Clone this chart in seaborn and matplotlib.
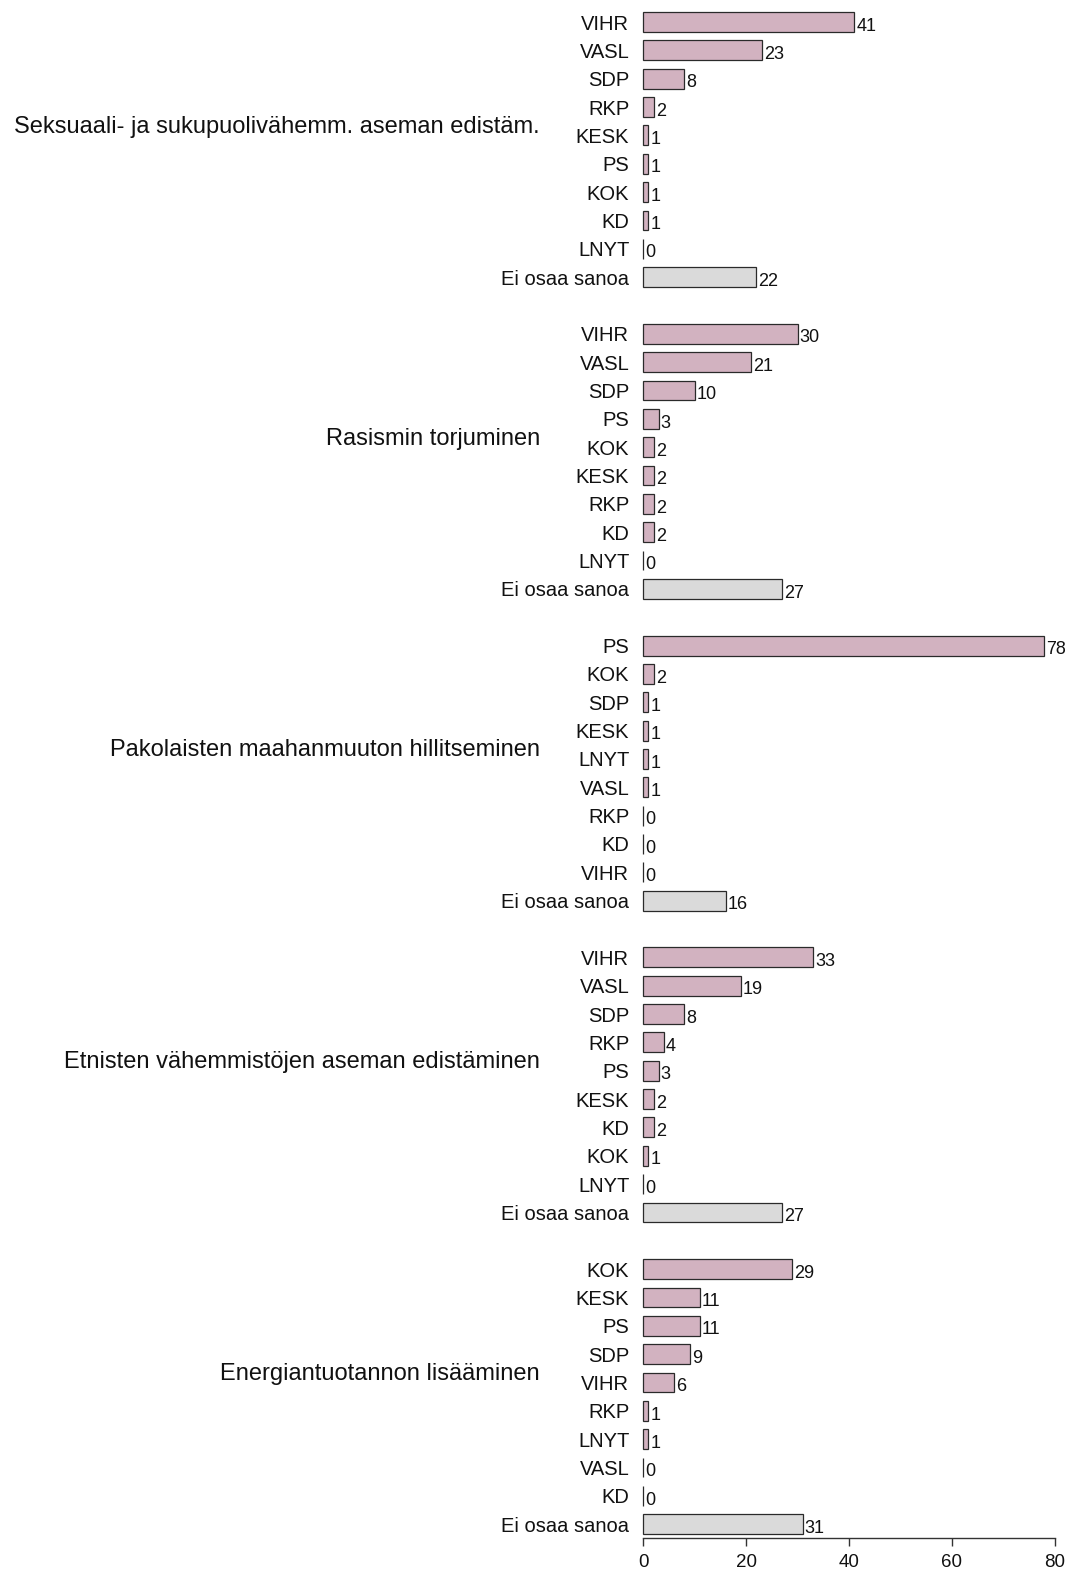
import matplotlib
matplotlib.use("Agg")
import matplotlib.pyplot as plt
import seaborn as sns
import pandas as pd

# ---- data ----
titles = [
    "Seksuaali- ja sukupuolivähemm. aseman edistäm.",
    "Rasismin torjuminen",
    "Pakolaisten maahanmuuton hillitseminen",
    "Etnisten vähemmistöjen aseman edistäminen",
    "Energiantuotannon lisääminen",
]
labels_1 = ["VIHR", "VASL", "SDP", "RKP", "KESK", "PS", "KOK", "KD", "LNYT", "Ei osaa sanoa"]
values_1 = [41, 23, 8, 2, 1, 1, 1, 1, 0, 22]
labels_2 = ["VIHR", "VASL", "SDP", "PS", "KOK", "KESK", "RKP", "KD", "LNYT", "Ei osaa sanoa"]
values_2 = [30, 21, 10, 3, 2, 2, 2, 2, 0, 27]
labels_3 = ["PS", "KOK", "SDP", "KESK", "LNYT", "VASL", "RKP", "KD", "VIHR", "Ei osaa sanoa"]
values_3 = [78, 2, 1, 1, 1, 1, 0, 0, 0, 16]
labels_4 = ["VIHR", "VASL", "SDP", "RKP", "PS", "KESK", "KD", "KOK", "LNYT", "Ei osaa sanoa"]
values_4 = [33, 19, 8, 4, 3, 2, 2, 1, 0, 27]
labels_5 = ["KOK", "KESK", "PS", "SDP", "VIHR", "RKP", "LNYT", "VASL", "KD", "Ei osaa sanoa"]
values_5 = [29, 11, 11, 9, 6, 1, 1, 0, 0, 31]
x_ticks = [0, 20, 40, 60, 80]

groups = [(labels_1, values_1), (labels_2, values_2), (labels_3, values_3),
          (labels_4, values_4), (labels_5, values_5)]

rows = []
for g, (labs, vals) in enumerate(groups):
    for i, (l, v) in enumerate(zip(labs, vals)):
        rows.append({"pos": g * 11 + i, "label": l, "value": v,
                     "kind": "eos" if l == "Ei osaa sanoa" else "party"})
df = pd.DataFrame(rows)

sns.set_theme(style="white")
plt.rcParams["font.family"] = ["Liberation Sans", "DejaVu Sans"]

fig = plt.figure(figsize=(10.75, 15.73), dpi=100)
ax = fig.add_axes([0.597, 0.022, 0.384, 0.973])

sns.barplot(data=df, x="value", y="pos", hue="kind", orient="h", native_scale=True,
            dodge=False, palette={"party": "#d7adbf", "eos": "#dadada"},
            edgecolor="#2a2a2a", linewidth=0.9, width=0.7, legend=False, ax=ax)

for c in ax.containers:
    anns = ax.bar_label(c, padding=2, fontsize=13, color="#111111", clip_on=False)
    for a in anns:
        a.xyann = (1.5, -3)

ax.set_ylim(53.5, -0.5)
ax.set_xlim(-0.3, 80)
ax.set_yticks(df["pos"].tolist())
ax.set_yticklabels(df["label"].tolist(), fontsize=14.5, color="#111111")
ax.tick_params(axis="y", length=0, pad=9)
ax.set_xticks(x_ticks)
ax.set_xticklabels([str(t) for t in x_ticks], fontsize=13.5, color="#111111")
ax.tick_params(axis="x", length=6, width=1, color="#333333", direction="out", bottom=True, pad=5)
ax.set_xlabel("")
ax.set_ylabel("")
for s in ["top", "right", "left"]:
    ax.spines[s].set_visible(False)
ax.spines["bottom"].set_bounds(0, 80)
ax.spines["bottom"].set_color("#333333")
ax.spines["bottom"].set_linewidth(1)

for g, t in enumerate(titles):
    ax.text(-0.247, g * 11 + 3.7, t, transform=ax.get_yaxis_transform(),
            ha="right", va="center", fontsize=17, color="#111111")

fig.savefig("out.png", dpi=100)
